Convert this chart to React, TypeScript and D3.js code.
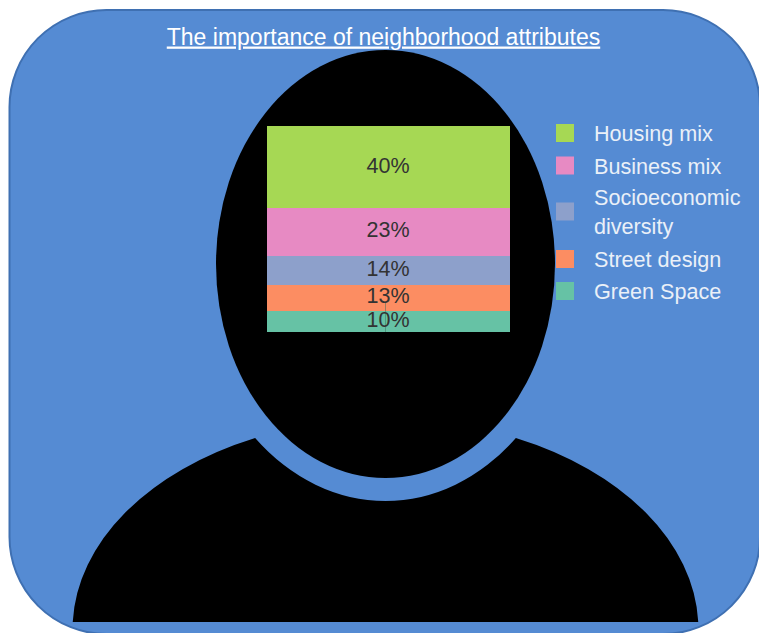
import React from "react";
import * as d3 from "d3";

const attributes = ["Housing mix", "Business mix", "Socioeconomic diversity", "Street design", "Green Space"];
const shares = [40, 23, 14, 13, 10];
const fills = ["#a6d854", "#e78ac3", "#8da0cb", "#fc8d62", "#66c2a5"];
const legendLines = [["Housing mix"], ["Business mix"], ["Socioeconomic", "diversity"], ["Street design"], ["Green Space"]];

const FONT = "'Liberation Sans', Arial, sans-serif";
const HEAD = { cx: 385.5, cy: 264, rx: 169.5, ry: 214 };
const NECK = { rx: 192, ry: 237 };
const SHOULDER = { cx: 385.5, cy: 630, rx: 313, ry: 211 };
const BODY_BASE = 622;
const NECK_Y = 438;

// Stacked column occupies a fixed box; stacking starts from the top of it.
const yScale = d3.scaleLinear().domain([0, d3.sum(shares)]).rangeRound([126, 332]);
const stackRow = Object.fromEntries(attributes.map((a, i) => [a, shares[i]]));
const layers = d3.stack<Record<string, number>>().keys(attributes)([stackRow]);

// Label baseline shift for each band, so the text sits a little above centre.
const labelLift = [2, 3, 2.5, 2.5, 2];
// Vertical slots of the legend rows.
const legendY = [133, 165.5, 211.5, 259, 291];
const legendScale = d3.scaleOrdinal<string, number>().domain(attributes).range(legendY);

function bodyPath(): string {
  const dy = (y: number) => (y - SHOULDER.cy) / SHOULDER.ry;
  const halfBase = SHOULDER.rx * Math.sqrt(1 - dy(BODY_BASE) ** 2);
  const neckDy = (NECK_Y - HEAD.cy) / NECK.ry;
  const halfNeck = NECK.rx * Math.sqrt(1 - neckDy ** 2);
  const cx = HEAD.cx;
  return [
    `M${cx - halfBase},${BODY_BASE}`,
    `A${SHOULDER.rx},${SHOULDER.ry} 0 0 1 ${cx - halfNeck},${NECK_Y}`,
    `A${NECK.rx},${NECK.ry} 0 0 0 ${cx + halfNeck},${NECK_Y}`,
    `A${SHOULDER.rx},${SHOULDER.ry} 0 0 1 ${cx + halfBase},${BODY_BASE}`,
    "Z",
  ].join(" ");
}

export default function App() {
  return (
    <svg
      width={759}
      height={633}
      viewBox="0 0 759 633"
      style={{ position: "fixed", left: 0, top: 0, display: "block", background: "#fff" }}
      fontFamily={FONT}
    >
      <rect x={9.5} y={10} width={750.5} height={624} rx={97} ry={97} fill="#558bd3" stroke="#3f70b2" strokeWidth={2} />
      <text x={383.5} y={44.5} textAnchor="middle" fontSize={23} fill="#fff" textDecoration="underline">
        The importance of neighborhood attributes
      </text>

      <ellipse cx={HEAD.cx} cy={HEAD.cy} rx={HEAD.rx} ry={HEAD.ry} fill="#000" />
      <path d={bodyPath()} fill="#000" />

      {layers.map((layer, i) => {
        const [y0, y1] = layer[0];
        return (
          <rect
            key={layer.key}
            x={267}
            width={243}
            y={yScale(y0)}
            height={yScale(y1) - yScale(y0)}
            fill={fills[i]}
            shapeRendering="crispEdges"
          />
        );
      })}
      <line x1={385.5} x2={385.5} y1={303} y2={332} stroke="#3a6f5c" strokeWidth={0.7} opacity={0.7} />
      {layers.map((layer, i) => {
        const [y0, y1] = layer[0];
        return (
          <text
            key={layer.key}
            x={388}
            y={(yScale(y0) + yScale(y1)) / 2 - labelLift[i]}
            dy="0.35em"
            textAnchor="middle"
            fontSize={21.5}
            fill="#333"
          >
            {shares[i]}%
          </text>
        );
      })}

      {attributes.map((name, i) => {
        const mid = legendScale(name);
        const lines = legendLines[i];
        return (
          <g key={name}>
            <rect x={556} y={mid - 9} width={18} height={18} fill={fills[i]} />
            {lines.map((line, j) => (
              <text
                key={line}
                x={594}
                y={mid + 0.5 + (j - (lines.length - 1) / 2) * 29}
                dy="0.35em"
                fontSize={21.6}
                fill="#eaf0f8"
              >
                {line}
              </text>
            ))}
          </g>
        );
      })}
    </svg>
  );
}
